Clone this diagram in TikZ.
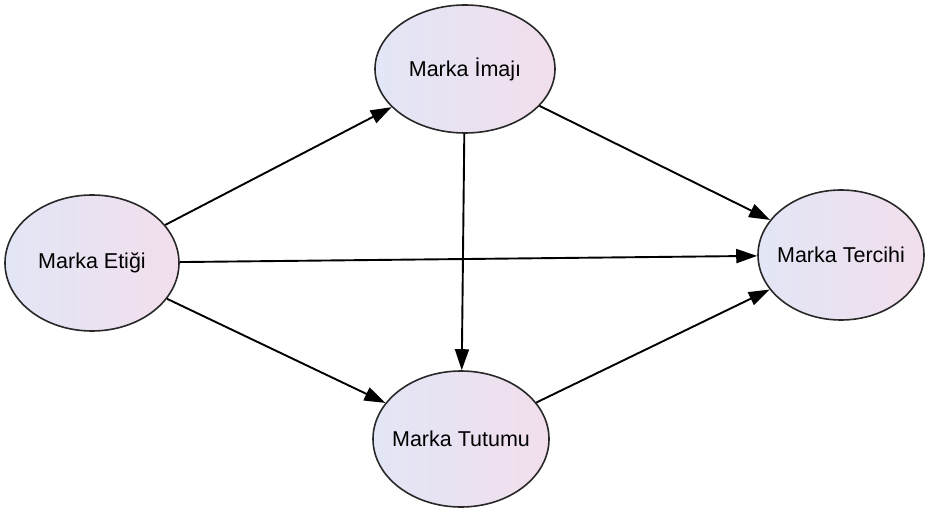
\documentclass[tikz,border=0pt]{standalone}
\usepackage{fontspec}
\setmainfont{Liberation Sans}
\usetikzlibrary{shapes.geometric}
\usetikzlibrary{arrows.meta}

\definecolor{leftfill}{RGB}{226,230,246}
\definecolor{rightfill}{RGB}{242,222,236}
\definecolor{rim}{RGB}{40,40,40}

\begin{document}
\begin{tikzpicture}[x=1pt,y=-1pt,
  construct/.style={ellipse,draw=rim,line width=1.6pt,inner xsep=-18pt,inner ysep=0pt,
    left color=leftfill,right color=rightfill,font=\fontsize{21.5}{24}\selectfont},
  path/.style={line width=1.9pt,-{Triangle[length=21pt,width=14pt]}}]
\useasboundingbox (0,0) rectangle (926,513);

%constructs
\node[construct,minimum width=174pt,minimum height=136pt] (etik) at (92,263) {Marka Etiği};
\node[construct,minimum width=180pt,minimum height=128pt] (imaj) at (465,69) {Marka İmajı};
\node[construct,minimum width=166pt,minimum height=130pt] (tercih) at (841,255) {Marka Tercihi};
\node[construct,minimum width=176pt,minimum height=136pt] (tutum) at (461,439) {Marka Tutumu};

%paths
\draw[path] (etik) -- (imaj);
\draw[path] (etik) -- (tercih);
\draw[path] (etik) -- (tutum);
\draw[path] (imaj) -- (tutum);
\draw[path] (imaj) -- (tercih);
\draw[path] (tutum) -- (tercih);
\end{tikzpicture}
\end{document}
